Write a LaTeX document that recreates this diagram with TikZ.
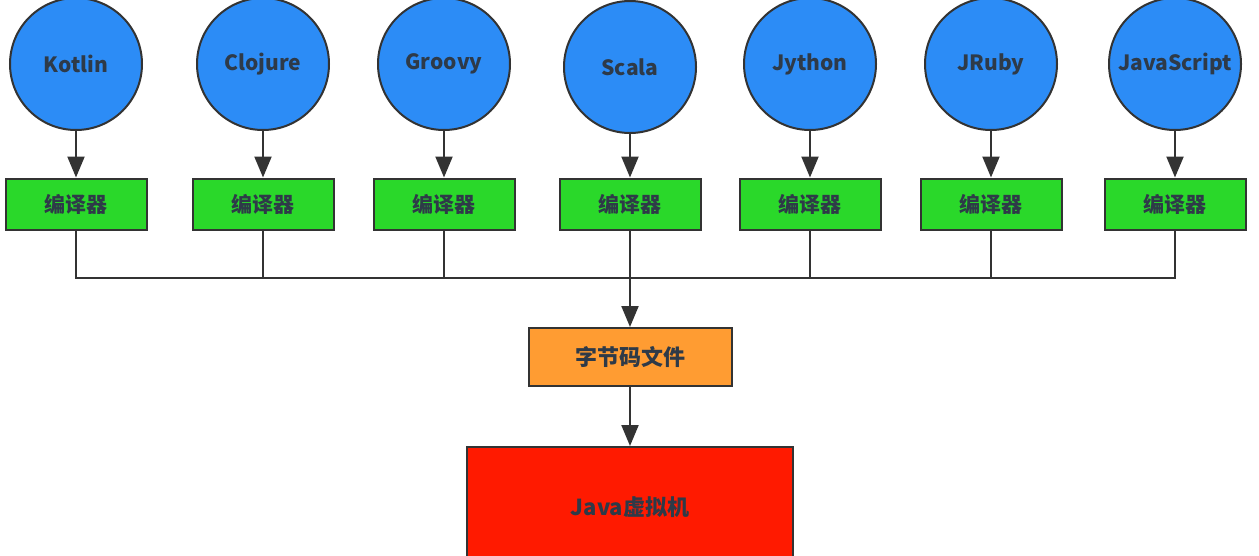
\documentclass[tikz,border=0pt]{standalone}
\usepackage{fontspec}
\setmainfont{Noto Sans CJK SC}
\usetikzlibrary{positioning}
\usetikzlibrary{arrows.meta}
\definecolor{langblue}{RGB}{44,140,246}
\definecolor{compgreen}{RGB}{42,216,42}
\definecolor{byteorange}{RGB}{255,156,50}
\definecolor{jvmred}{RGB}{255,26,0}
\definecolor{edgegray}{RGB}{51,51,51}
\definecolor{labelgray}{RGB}{46,58,72}

\begin{document}
\begin{tikzpicture}[x=1pt, y=-1pt, >={Triangle[length=21pt, width=17pt]},
                bluecirclenode/.style={circle, draw=edgegray, fill=langblue, line width=2pt, minimum size=132pt, inner sep=0pt, text=labelgray, font=\fontsize{21pt}{24pt}\selectfont\bfseries},
                greensquarednode/.style={rectangle, draw=edgegray, fill=compgreen, line width=2pt, minimum width=141pt, minimum height=51pt, text=labelgray, font=\fontsize{21pt}{24pt}\selectfont\bfseries},
                orangesquarednode/.style={rectangle, draw=edgegray, fill=byteorange, line width=2pt, minimum width=203pt, minimum height=58pt, text=labelgray, font=\fontsize{22pt}{26pt}\selectfont\bfseries},
                redsquarednode/.style={rectangle, draw=edgegray, fill=jvmred, line width=2pt, minimum width=326pt, minimum height=120pt, text=labelgray, font=\fontsize{22pt}{26pt}\selectfont\bfseries},
                flow/.style={draw=edgegray, line width=2.2pt},
                ]
                \useasboundingbox (0,0) rectangle (1259,555);

                \node[bluecirclenode] (Kotlin) at (76,64) {Kotlin};
                \node[bluecirclenode] (Clojure) at (263,64) {Clojure};
                \node[bluecirclenode] (Groovy) at (444,64) {Groovy};
                \node[bluecirclenode] (Scala) at (630,67) {Scala};
                \node[bluecirclenode] (Jython) at (810,64) {Jython};
                \node[bluecirclenode] (JRuby) at (991,64) {JRuby};
                \node[bluecirclenode] (JavaScript) at (1175,64) {JavaScript};

                \node[greensquarednode] (CKotlin) at (76,204) {编译器};
                \node[greensquarednode] (CClojure) at (263,204) {编译器};
                \node[greensquarednode] (CGroovy) at (444,204) {编译器};
                \node[greensquarednode] (CScala) at (630,204) {编译器};
                \node[greensquarednode] (CJython) at (810,204) {编译器};
                \node[greensquarednode] (CJRuby) at (991,204) {编译器};
                \node[greensquarednode] (CJavaScript) at (1175,204) {编译器};

                \node[orangesquarednode] (Bytecode) at (630,357) {字节码文件};
                \node[redsquarednode, below=59pt of Bytecode] (JVM) {Java虚拟机};

                \coordinate (Bus) at (630,278);

                \draw[->, flow] (Kotlin.south) -- (CKotlin.north);
                \draw[->, flow] (Clojure.south) -- (CClojure.north);
                \draw[->, flow] (Groovy.south) -- (CGroovy.north);
                \draw[->, flow] (Scala.south) -- (CScala.north);
                \draw[->, flow] (Jython.south) -- (CJython.north);
                \draw[->, flow] (JRuby.south) -- (CJRuby.north);
                \draw[->, flow] (JavaScript.south) -- (CJavaScript.north);

                \draw[flow] (CKotlin.south) |- (CJavaScript.south |- Bus) -- (CJavaScript.south);
                \draw[flow] (CClojure.south) -- (CClojure.south |- Bus);
                \draw[flow] (CGroovy.south) -- (CGroovy.south |- Bus);
                \draw[flow] (CJython.south) -- (CJython.south |- Bus);
                \draw[flow] (CJRuby.south) -- (CJRuby.south |- Bus);
                \draw[->, flow] (CScala.south) -- (Bytecode.north);

                \draw[->, flow] (Bytecode.south) -- (JVM.north);
            \end{tikzpicture}
\end{document}
